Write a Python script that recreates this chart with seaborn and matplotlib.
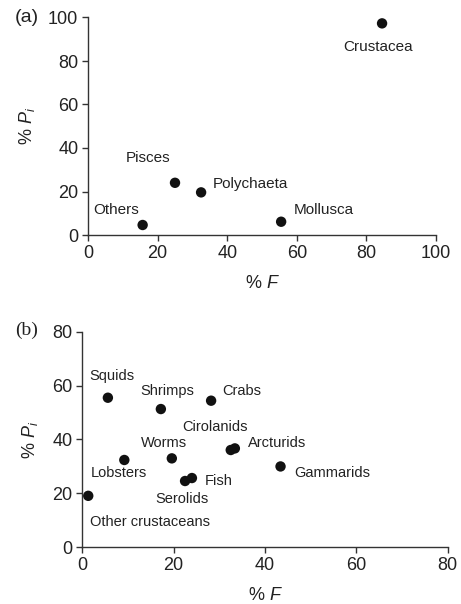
import matplotlib
matplotlib.use("Agg")
import matplotlib.pyplot as plt
import seaborn as sns
import pandas as pd

sns.set_theme(style="ticks")
plt.rcParams['font.family'] = ['Liberation Sans', 'DejaVu Sans']
plt.rcParams['mathtext.fontset'] = 'custom'
plt.rcParams['mathtext.it'] = 'Liberation Sans:italic'
plt.rcParams['mathtext.rm'] = 'Liberation Sans'

# Panel (a)
a_names = ["Crustacea", "Pisces", "Polychaeta", "Others", "Mollusca"]
a_F = [84.5, 25.0, 32.5, 15.7, 55.5]
a_P = [97.3, 24.0, 19.6, 4.6, 6.1]

# Panel (b)
b_names = ["Squids", "Shrimps", "Crabs", "Cirolanids", "Arcturids", "Lobsters",
           "Worms", "Gammarids", "Serolids", "Fish", "Other crustaceans"]
b_F = [5.6, 17.2, 28.2, 32.5, 33.4, 9.2, 19.6, 43.4, 22.5, 24.0, 1.3]
b_P = [55.5, 51.3, 54.4, 36.1, 36.7, 32.4, 33.0, 30.0, 24.6, 25.7, 19.1]

# label anchor positions (data coords)
a_lab = {"Crustacea": (83.4, 86.3, 'center'), "Pisces": (17.4, 35.5, 'center'),
         "Polychaeta": (35.8, 23.6, 'left'), "Others": (8.2, 11.5, 'center'),
         "Mollusca": (59.0, 11.5, 'left')}
b_lab = {"Squids": (6.5, 63.4), "Shrimps": (18.7, 58.1), "Crabs": (35.0, 58.1),
         "Cirolanids": (29.1, 44.7), "Arcturids": (42.7, 38.6), "Worms": (17.9, 38.6),
         "Lobsters": (8.1, 27.7), "Gammarids": (54.8, 27.7), "Fish": (29.9, 24.7),
         "Serolids": (21.9, 17.9), "Other crustaceans": (14.8, 9.5)}

W, H = 461, 604
fig = plt.figure(figsize=(W / 100, H / 100), dpi=100)
axa = fig.add_axes([88 / W, 1 - 235 / H, (436 - 88) / W, (235 - 17.5) / H])
axb = fig.add_axes([82.3 / W, 1 - 547.3 / H, (447.7 - 82.3) / W, (547.3 - 331.7) / H])

dfa = pd.DataFrame({"F": a_F, "P": a_P, "name": a_names})
dfb = pd.DataFrame({"F": b_F, "P": b_P, "name": b_names})

sns.scatterplot(data=dfa, x="F", y="P", ax=axa, color="#111111", s=56, edgecolor="none", clip_on=False)
sns.scatterplot(data=dfb, x="F", y="P", ax=axb, color="#111111", s=56, edgecolor="none", clip_on=False)

for n, (x, y, ha) in a_lab.items():
    axa.text(x, y, n, ha=ha, va='center', fontsize=11, color="#222222")
for n, (x, y) in b_lab.items():
    axb.text(x, y, n, ha='center', va='center', fontsize=10.5, color="#222222")

axa.set_xlim(0, 100); axa.set_ylim(0, 100)
axa.set_xticks(range(0, 101, 20)); axa.set_yticks(range(0, 101, 20))
axb.set_xlim(0, 80); axb.set_ylim(0, 80)
axb.set_xticks(range(0, 81, 20)); axb.set_yticks(range(0, 81, 20))

for ax in (axa, axb):
    sns.despine(ax=ax)
    for sp in ("left", "bottom"):
        ax.spines[sp].set_linewidth(1.0)
        ax.spines[sp].set_color("#333333")
    ax.tick_params(axis='both', direction='out', length=4, width=1.0, color="#333333",
                   labelsize=13, labelcolor="#222222", pad=3)
    ax.set_xlabel(r'% $F$', fontsize=13, color="#222222")
    ax.set_ylabel(r'% $P_i$', fontsize=13, color="#222222")

axa.xaxis.set_label_coords(0.5, -(283 - 235) / (235 - 17.5))
axa.yaxis.set_label_coords(-(88 - 27) / (436 - 88), 0.5)
axb.xaxis.set_label_coords(0.5, -(595 - 547.3) / (547.3 - 331.7))
axb.yaxis.set_label_coords(-(82.3 - 30) / (447.7 - 82.3), 0.5)
axa.xaxis.label.set_va('center'); axb.xaxis.label.set_va('center')
axa.yaxis.label.set_va('center'); axb.yaxis.label.set_va('center')

fig.text(26.7 / W, 1 - 18 / H, "(a)", fontsize=14, ha='center', va='center', color="#222222")
fig.text(26.7 / W, 1 - 330 / H, "(b)", fontsize=14, ha='center', va='center', color="#222222",
         family=['Liberation Serif', 'DejaVu Serif'])

fig.savefig("out.png", dpi=100)
